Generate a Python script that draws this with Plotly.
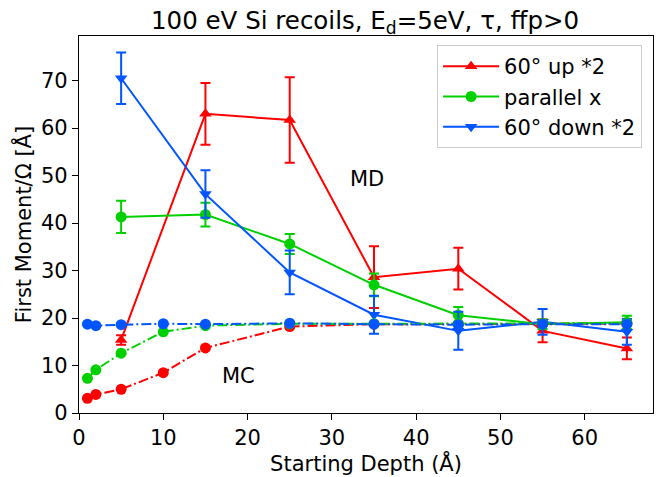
import plotly.graph_objects as go

# MD data (starting depth in Angstrom)
md_depth = [5, 15, 25, 35, 45, 55, 65]
up_vals = [15.4, 63.0, 61.7, 28.6, 30.4, 17.3, 13.6]
up_err = [1.0, 6.5, 9.0, 6.5, 4.4, 2.4, 2.3]
par_vals = [41.3, 41.8, 35.6, 27.0, 20.6, 18.7, 19.1]
par_err = [3.4, 2.5, 2.1, 2.4, 1.7, 1.0, 1.4]
down_vals = [70.5, 46.1, 29.6, 20.7, 17.3, 19.2, 17.1]
down_err = [5.4, 5.0, 4.6, 4.0, 4.0, 2.7, 2.7]

# MC data
mc_depth = [1, 2, 5, 10, 15, 25, 35, 45, 55, 65]
mc_up = [3.1, 3.9, 5.0, 8.5, 13.7, 18.2, 18.7, 18.7, 18.8, 18.8]
mc_par = [7.3, 9.1, 12.6, 17.1, 18.4, 18.8, 18.8, 18.8, 18.8, 18.9]
mc_down = [18.7, 18.4, 18.6, 18.8, 18.7, 18.9, 18.7, 18.6, 18.7, 18.7]

names = ["60° up *2", "parallel x", "60° down *2"]
colors = ["#ff0000", "#00d000", "#0055ff"]
symbols = ["triangle-up", "circle", "triangle-down"]

fig = go.Figure()

for vals, errs, name, col, sym in zip([up_vals, par_vals, down_vals],
                                      [up_err, par_err, down_err],
                                      names, colors, symbols):
    fig.add_trace(go.Scatter(
        x=md_depth, y=vals, name=name, mode="lines+markers",
        line=dict(color=col, width=2),
        marker=dict(symbol=sym, size=11, color=col),
        error_y=dict(type="data", array=errs, visible=True, color=col,
                     thickness=2, width=5),
    ))

for vals, col in zip([mc_up, mc_par, mc_down], colors):
    fig.add_trace(go.Scatter(
        x=mc_depth, y=vals, mode="lines+markers", showlegend=False,
        line=dict(color=col, width=2, dash="10px,3px,2px,3px"),
        marker=dict(symbol="circle", size=11, color=col),
    ))

fig.add_annotation(x=34.2, y=49.3, text="MD", showarrow=False,
                   font=dict(size=21, color="black"))
fig.add_annotation(x=18.9, y=7.8, text="MC", showarrow=False,
                   font=dict(size=21, color="black"))

axis_common = dict(showline=True, linecolor="black", linewidth=1.3, mirror=True,
                   ticks="outside", ticklen=6, tickcolor="black", tickwidth=1.2,
                   showgrid=False, zeroline=False, automargin=False,
                   tickfont=dict(size=21, color="black"))

# page body has an 8px default margin, so the figure is sized to fit the window
fig.update_layout(
    width=658, height=469,
    margin=dict(l=71, r=13, t=28, b=64),
    paper_bgcolor="white", plot_bgcolor="white",
    font=dict(family="DejaVu Sans", color="black"),
    title=dict(text="100 eV Si recoils, E<sub>d</sub>=5eV, τ, ffp>0",
               x=0.5426, xanchor="center", y=0.974, yanchor="middle",
               font=dict(size=24.5, color="black")),
    xaxis=dict(title=dict(text="Starting Depth (Å)", font=dict(size=21), standoff=4),
               range=[0, 68.1], tickvals=[0, 10, 20, 30, 40, 50, 60], **axis_common),
    yaxis=dict(title=dict(text="First Moment/Ω [Å]", font=dict(size=21), standoff=3),
               range=[0, 79.4], tickvals=[0, 10, 20, 30, 40, 50, 60, 70], **axis_common),
    legend=dict(x=0.981, y=0.976, xanchor="right", yanchor="top",
                bgcolor="rgba(255,255,255,0.8)", bordercolor="#cccccc", borderwidth=1,
                font=dict(size=21, color="black"), itemwidth=56,
                tracegroupgap=0),
)

fig.write_html("out.html")
